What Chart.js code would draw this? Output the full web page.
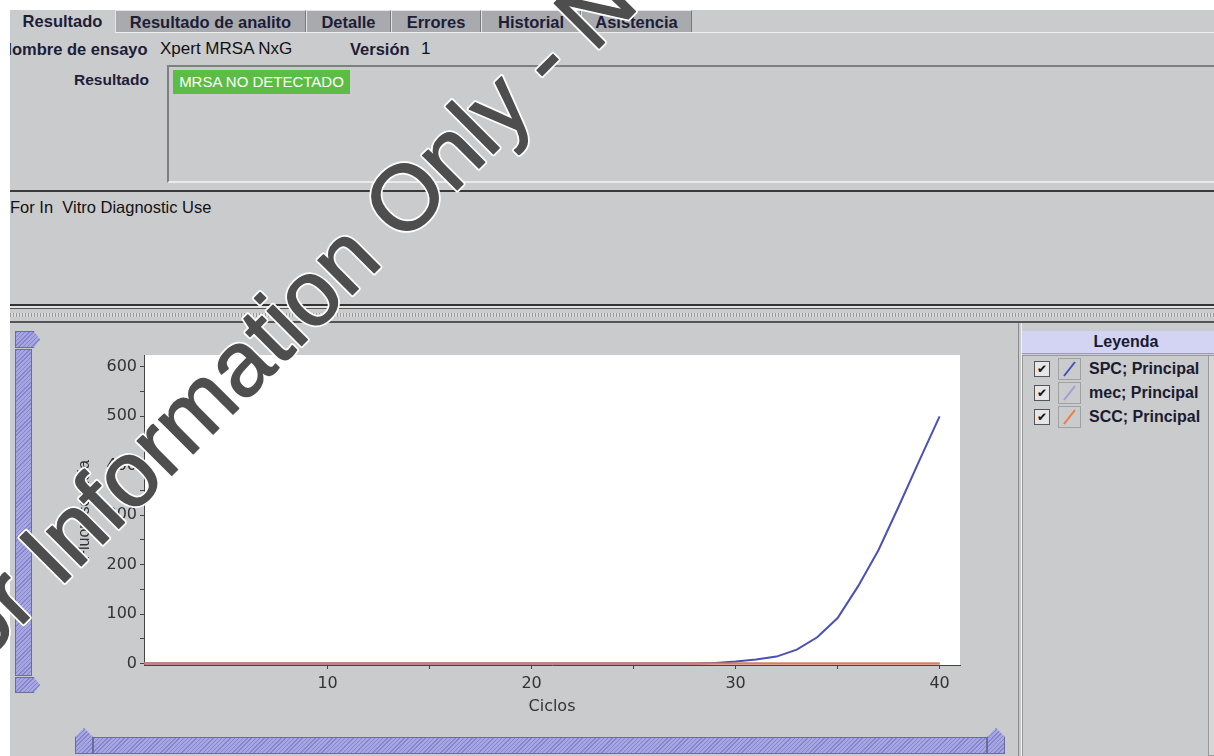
<!DOCTYPE html>
<html>
<head>
<meta charset="utf-8">
<script src="https://cdn.jsdelivr.net/npm/chart.js@4.4.1/dist/chart.umd.min.js"></script>
<style>
  body { margin: 0; width: 1214px; height: 756px; overflow: hidden; background: #fff; position: relative;
         font-family: "Liberation Sans", Arial, sans-serif; color: #111; }
  #panel { position: absolute; left: 0; top: 0; width: 1214px; height: 756px; background: #cacbcd;
           clip-path: inset(10px 0 0 10px); }
  .a { position: absolute; white-space: nowrap; }
  .tab { position: absolute; top: 10px; height: 22px; line-height: 22px; font-weight: bold; font-size: 16.5px;
         color: #1d1d38; text-align: center; box-sizing: border-box; white-space: nowrap; }
  .tab.off { background: #a9aaad; border-left: 1px solid #e4e4e4; border-top: 1px solid #e4e4e4; border-right: 1px solid #78797b; }
  .hatch { background: repeating-linear-gradient(135deg, #8585cc 0 1px, #a6a6e2 1px 3px); border: 1px solid #6c6c9c; box-sizing: border-box; }
  .row { position: absolute; left: 1030px; width: 178px; height: 22px; }
  .chk { position: absolute; left: 4px; top: 3px; width: 16px; height: 16px; box-sizing: border-box; border: 1px solid #555;
         background: #e6e6e6; font-size: 12px; line-height: 14px; text-align: center; color: #111; }
  .sw { position: absolute; left: 28px; top: 0; width: 23px; height: 22px; box-sizing: border-box; border: 1px solid #a0a0a0; }
  .lbl { position: absolute; left: 59px; top: 0; line-height: 22px; font-weight: bold; font-size: 16px; color: #1a1a30; white-space: nowrap; }
</style>
</head>
<body>
<div id="panel">
  <!-- pestañas -->
  <div class="tab" style="left:10px;width:105px;">Resultado</div>
  <div class="tab off" style="left:115px;width:191px;">Resultado de analito</div>
  <div class="tab off" style="left:306px;width:85px;">Detalle</div>
  <div class="tab off" style="left:391px;width:90px;">Errores</div>
  <div class="tab off" style="left:481px;width:100px;">Historial</div>
  <div class="tab off" style="left:581px;width:111px;">Asistencia</div>
  <div class="a" style="left:115px;top:32px;width:1100px;height:1px;background:#eee;"></div>

  <div class="a" style="left:0px;top:39px;font-weight:bold;font-size:16.5px;line-height:20px;color:#1d1d38;">Nombre de ensayo</div>
  <div class="a" style="left:160px;top:39px;font-size:17px;line-height:20px;">Xpert MRSA NxG</div>
  <div class="a" style="left:350px;top:39px;font-weight:bold;font-size:16.5px;line-height:20px;color:#1d1d38;">Versión</div>
  <div class="a" style="left:421px;top:39px;font-size:17px;line-height:20px;">1</div>

  <div class="a" style="left:74px;top:70px;font-weight:bold;font-size:15.5px;line-height:20px;color:#1d1d38;">Resultado</div>
  <div class="a" style="left:167px;top:65px;width:1060px;height:118px;box-sizing:border-box;border-top:2px solid #7e7f81;border-left:2px solid #7e7f81;border-bottom:2px solid #eaeaea;"></div>
  <div class="a" style="left:173px;top:70px;width:177px;height:24px;background:#5cbd45;color:#fff;font-size:15px;line-height:24px;text-align:center;">MRSA NO DETECTADO</div>

  <div class="a" style="left:10px;top:190px;width:1204px;height:2px;background:#3a3a3a;"></div>
  <div class="a" style="left:10px;top:197px;font-size:16.5px;line-height:20px;">For In&nbsp; Vitro Diagnostic Use</div>

  <!-- divisor -->
  <div class="a" style="left:10px;top:304px;width:1204px;height:2px;background:#333;"></div>
  <div class="a" style="left:10px;top:306px;width:1204px;height:2px;background:#e2e2e2;"></div>
  <div class="a" style="left:10px;top:308px;width:1204px;height:1px;background:#555;"></div>
  <div class="a" style="left:10px;top:313px;width:1204px;height:4px;background:repeating-linear-gradient(90deg,#9a9a9a 0 1px,#dadada 1px 3px);"></div>
  <div class="a" style="left:10px;top:321px;width:1204px;height:2px;background:#555;"></div>

  <!-- barra vertical -->
  <div class="a hatch" style="left:15px;top:331px;width:25px;height:17px;clip-path:polygon(0 0,75% 0,100% 50%,75% 100%,0 100%);"></div>
  <div class="a hatch" style="left:15px;top:349px;width:17px;height:327px;"></div>
  <div class="a hatch" style="left:15px;top:677px;width:25px;height:16px;clip-path:polygon(0 0,75% 0,100% 50%,75% 100%,0 100%);"></div>

  <!-- barra horizontal -->
  <div class="a hatch" style="left:75px;top:728px;width:18px;height:26px;clip-path:polygon(0 35%,50% 0,100% 35%,100% 100%,0 100%);"></div>
  <div class="a hatch" style="left:93px;top:737px;width:894px;height:17px;"></div>
  <div class="a hatch" style="left:987px;top:728px;width:18px;height:26px;clip-path:polygon(0 35%,50% 0,100% 35%,100% 100%,0 100%);"></div>

  <canvas id="chart" width="940" height="390" style="position:absolute;left:40px;top:340px;"></canvas>

  <!-- leyenda -->
  <div class="a" style="left:1018px;top:323px;width:1px;height:433px;background:#8a8a8a;"></div>
  <div class="a" style="left:1021px;top:323px;width:1px;height:433px;background:#f2f2f2;"></div>
  <div class="a" style="left:1022px;top:331px;width:210px;height:22px;background:#d3d3f3;border-bottom:1px solid #9c9cba;"></div>
  <div class="a" style="left:1022px;top:331px;width:208px;text-align:center;font-weight:bold;font-size:16px;line-height:22px;color:#1a1a30;">Leyenda</div>
  <div class="a" style="left:1022px;top:355px;width:186px;height:401px;box-sizing:border-box;border-left:1px solid #999;border-top:1px solid #999;"></div>
  <div class="a" style="left:1208px;top:355px;width:10px;height:401px;box-sizing:border-box;border:1px solid #999;background:#d6d6d6;"></div>
  <div id="legend"></div>
</div>

<svg width="1214" height="756" style="position:absolute;left:0;top:0;pointer-events:none;">
  <g transform="rotate(-45 -57 704)" font-family="Liberation Sans, Arial, sans-serif" font-size="92">
    <text x="-57" y="704" fill="none" stroke="#ffffff" stroke-width="5" stroke-linejoin="round">For Information Only - Not for Clinical Use</text>
    <text x="-57" y="704" fill="#4e4e4e" stroke="#4e4e4e" stroke-width="1.5" stroke-linejoin="round">For Information Only - Not for Clinical Use</text>
  </g>
</svg>

<script>
// ciclos y curvas (fluorescencia)
const cycles = [1, 2, 3, 4, 5, 6, 7, 8, 9, 10, 11, 12, 13, 14, 15, 16, 17, 18, 19, 20,
                21, 22, 23, 24, 25, 26, 27, 28, 29, 30, 31, 32, 33, 34, 35, 36, 37, 38, 39, 40];
const spc = [0, 0, 0, 0, 0, 0, 0, 0, 0, 0, 0, 0, 0, 0, 0, 0, 0, 0, 0, 0,
             0, 0, 0, 0, 0, 0, 0, 0, 1, 4, 8, 14, 28, 53, 92, 156, 229, 318, 410, 500];
const mec = [0, 0, 0, 0, 0, 0, 0, 0, 0, 0, 0, 0, 0, 0, 0, 0, 0, 0, 0, 0,
             0, 0, 0, 0, 0, 0, 0, 0, 0, 0, 0, 0, 0, 0, 0, 0, 0, 0, 0, 0];
const scc = [0, 0, 0, 0, 0, 0, 0, 0, 0, 0, 0, 0, 0, 0, 0, 0, 0, 0, 0, 0,
             0, 0, 0, 0, 0, 0, 0, 0, 0, 0, 0, 0, 0, 0, 0, 0, 0, 0, 0, 0];
const xTicks = [10, 15, 20, 25, 30, 35, 40];
const yTicks = [0, 50, 100, 150, 200, 250, 300, 350, 400, 450, 500, 550, 600];

const seriesNames = ['SPC; Principal', 'mec; Principal', 'SCC; Principal'];
const seriesColors = ['#4a50b8', '#a09cd8', '#f07a3a'];

// leyenda a la derecha
const legendEl = document.getElementById('legend');
seriesNames.forEach((name, i) => {
    const row = document.createElement('div');
    row.className = 'row';
    row.style.top = (358 + i * 24) + 'px';
    row.innerHTML = '<div class="chk">&#10004;</div>' +
        '<div class="sw"><svg width="21" height="20"><line x1="5" y1="17" x2="16" y2="3" stroke="' +
        seriesColors[i] + '" stroke-width="2"/></svg></div>' +
        '<div class="lbl">' + name + '</div>';
    legendEl.appendChild(row);
});

const toPoints = (vals) => vals.map((v, i) => ({ x: cycles[i], y: v }));

const plotBg = {
    id: 'plotBg',
    beforeDraw(chart) {
        const { ctx, chartArea: a } = chart;
        ctx.save();
        ctx.fillStyle = '#ffffff';
        ctx.fillRect(a.left, a.top, a.right - a.left, a.bottom - a.top);
        ctx.restore();
    }
};

const tickFont = { family: 'DejaVu Sans', size: 16 };

new Chart(document.getElementById('chart'), {
    type: 'line',
    data: {
        datasets: [
            { label: seriesNames[0], data: toPoints(spc), borderColor: seriesColors[0], borderWidth: 2, order: 1 },
            { label: seriesNames[1], data: toPoints(mec), borderColor: seriesColors[1], borderWidth: 2, order: 2 },
            { label: seriesNames[2], data: toPoints(scc), borderColor: seriesColors[2], borderWidth: 2, order: 0 }
        ]
    },
    options: {
        responsive: false,
        animation: false,
        layout: { padding: { top: 15, right: 20, left: 0, bottom: 0 } },
        elements: { point: { radius: 0 }, line: { tension: 0 } },
        plugins: { legend: { display: false }, tooltip: { enabled: false } },
        scales: {
            x: {
                type: 'linear',
                min: 1,
                max: 41,
                afterBuildTicks: (s) => { s.ticks = xTicks.map(v => ({ value: v })); },
                afterFit: (s) => { s.height = 65; },
                ticks: {
                    autoSkip: false, maxRotation: 0, padding: 5, color: '#333', font: tickFont,
                    callback: (v) => (v % 10 === 0 ? v : '')
                },
                grid: { drawOnChartArea: false, tickLength: 4, color: '#444' },
                border: { color: '#444', width: 1 },
                title: { display: true, text: 'Ciclos', color: '#333', font: tickFont, padding: { top: 0, bottom: 14 } }
            },
            y: {
                min: -3,
                max: 624,
                afterBuildTicks: (s) => { s.ticks = yTicks.map(v => ({ value: v })); },
                afterFit: (s) => { s.width = 104; },
                ticks: {
                    autoSkip: false, padding: 3, color: '#333', font: tickFont,
                    callback: (v) => (v % 100 === 0 ? v : '')
                },
                grid: { drawOnChartArea: false, tickLength: 4, color: '#444' },
                border: { color: '#444', width: 1 },
                title: { display: true, text: 'Fluorescencia', color: '#333', font: { family: 'Liberation Sans', size: 16 }, padding: { top: 35, bottom: 0 } }
            }
        }
    },
    plugins: [plotBg]
});
</script>
</body>
</html>
